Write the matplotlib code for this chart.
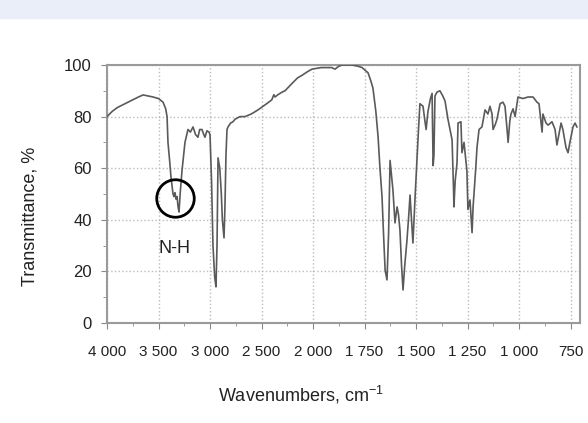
import numpy as np
import matplotlib
matplotlib.use('Agg')
from matplotlib import pyplot as plt

# spectrum: wavenumber (cm-1) and transmittance (%)
wavenumbers = [
    4000, 3950, 3900, 3850, 3800, 3750, 3700, 3650, 3600, 3553, 3500, 3456,
    3430, 3417, 3408, 3390, 3379, 3365, 3359, 3350, 3340, 3330, 3320, 3310,
    3301, 3290, 3272, 3243, 3214, 3190, 3165, 3140, 3117, 3100, 3078, 3060,
    3049, 3030, 3010, 3000, 2985, 2971, 2955, 2942, 2932, 2922, 2905, 2890,
    2880, 2864, 2855, 2845, 2835, 2825, 2800, 2777, 2757, 2709, 2660, 2600,
    2534, 2450, 2400, 2380, 2369, 2340, 2300, 2272, 2200, 2150, 2107, 2050,
    2010, 1960, 1942, 1910, 1893, 1875, 1859, 1811, 1780, 1762, 1740, 1733,
    1720, 1709, 1695, 1684, 1675, 1665, 1658, 1650, 1641, 1633, 1626, 1620,
    1612, 1602, 1592, 1585, 1578, 1570, 1563, 1555, 1544, 1535, 1529, 1522,
    1515, 1505, 1495, 1488, 1481, 1466, 1458, 1451, 1442, 1430, 1422, 1417,
    1413, 1408, 1398, 1384, 1370, 1359, 1345, 1325, 1318, 1316, 1310, 1301,
    1296, 1282, 1277, 1267, 1253, 1248, 1238, 1228, 1223, 1210, 1204, 1194,
    1180, 1165, 1151, 1141, 1131, 1126, 1115, 1107, 1092, 1078, 1068, 1058,
    1053, 1045, 1039, 1029, 1019, 1005, 981, 956, 932, 913, 903, 888,
    884, 869, 859, 840, 825, 816, 796, 787, 772, 762, 753, 738,
    728, 719,
]
transmittance = [
    80, 82, 83.5, 84.5, 85.5, 86.5, 87.5, 88.4, 88, 87.6, 87, 85.6,
    83, 80, 70, 62, 56.6, 52, 50, 49, 50.5, 48, 49, 45,
    43, 50, 59, 70, 75, 74, 76, 73, 72, 75, 75, 73,
    72, 74.5, 74, 73, 55, 30, 18, 14, 30, 64, 60, 50,
    40, 33, 45, 65, 75, 76, 77.5, 78, 79, 80, 80, 81,
    82.6, 85, 86.5, 88.5, 87.6, 88.5, 89.5, 90, 93, 95, 96, 97.5,
    98.4, 99, 99, 99, 98.4, 99.5, 100, 100, 99.5, 99, 97.5, 97,
    94, 91, 82, 72, 60, 49, 35, 20.5, 16.7, 35, 63, 58,
    51.5, 38.8, 45, 42, 36, 22, 12.8, 22, 32, 42, 49.6, 40,
    31, 48, 64, 75, 85, 84, 79, 75, 82, 87, 89, 61,
    65, 88, 89.5, 90, 88, 86, 79, 71, 52, 45, 55, 62,
    77.5, 78, 66, 70, 59, 44, 47.7, 35, 45, 60, 68, 75,
    76, 82.6, 81, 84, 81, 75, 77, 79, 85, 85.6, 84, 75,
    70, 78, 81, 83, 80, 87.6, 87, 87.6, 87.6, 85.6, 85, 74,
    81, 77.5, 76.7, 78, 75, 69, 77.5, 75, 68, 66, 70, 76,
    77.5, 76,
]

xticks = [4000, 3500, 3000, 2500, 2000, 1750, 1500, 1250, 1000, 750]
xtick_labels = ['4 000', '3 500', '3 000', '2 500', '2 000',
                '1 750', '1 500', '1 250', '1 000', '750']
xminor = [3750, 3250, 2750, 2250, 1875, 1625, 1375, 1125, 875]
yticks = [0, 20, 40, 60, 80, 100]

nh_mark = (3340, 48.4)
nh_label = (3345, 29)


# the spectrometer axis: 500 cm-1 per division above 2000, 250 below
def fwd(w):
    w = np.asarray(w, float)
    return -np.where(w >= 2000, (4000 - w) / 500, 4 + (2000 - w) / 250)


def inv(p):
    p = -np.asarray(p, float)
    return np.where(p <= 4, 4000 - 500 * p, 2000 - 250 * (p - 4))


plt.rcParams['font.family'] = ['Liberation Sans', 'DejaVu Sans']
plt.rcParams['mathtext.fontset'] = 'custom'
plt.rcParams['mathtext.rm'] = 'Liberation Sans'

fig = plt.figure(figsize=(5.88, 4.23), dpi=100)
fig.patches.append(plt.Rectangle((0, 1 - 18 / 423), 1, 18 / 423,
                                 transform=fig.transFigure,
                                 color='#e9eef9', zorder=0))
ax = fig.add_axes([107 / 588, 1 - 323 / 423, 473 / 588, 258 / 423])
ax.set_xscale('function', functions=(fwd, inv))
ax.set_xlim(4000, 704)
ax.set_ylim(0, 100)

ax.plot(wavenumbers, transmittance, color='#5a5a5a', lw=1.2, zorder=3)
ax.plot([nh_mark[0]], [nh_mark[1]], marker='o', ms=27, mfc='none',
        mec='black', mew=2, zorder=4)
ax.text(nh_label[0], nh_label[1], 'N-H', ha='center', va='center',
        fontsize=13, color='#222222')

ax.set_xticks(xticks)
ax.set_xticklabels(xtick_labels, fontsize=11, color='#222222')
ax.set_xticks(xminor, minor=True)
ax.set_yticks(yticks)
ax.set_yticklabels([str(v) for v in yticks], fontsize=12, color='#222222')
ax.set_yticks(range(10, 100, 20), minor=True)
ax.tick_params(axis='x', which='both', direction='out', length=4,
               color='#888888', pad=12)
ax.tick_params(axis='x', which='minor', length=2.5)
ax.tick_params(axis='y', which='both', direction='out', length=4,
               color='#888888', pad=7)
ax.tick_params(axis='y', which='minor', length=3)
ax.grid(which='major', ls=':', color='#bbbbbb', lw=1)

for s in ax.spines.values():
    s.set_color('#9a9a9a')
    s.set_linewidth(1.5)

ax.set_xlabel('Wavenumbers, cm$^{\u2212 1}$', fontsize=13, color='#222222')
ax.set_ylabel('Transmittance, %', fontsize=13, color='#222222')
ax.xaxis.set_label_coords(0.41, -0.235)
ax.yaxis.set_label_coords(-0.145, 0.415)

fig.savefig('out.png', dpi=100)
